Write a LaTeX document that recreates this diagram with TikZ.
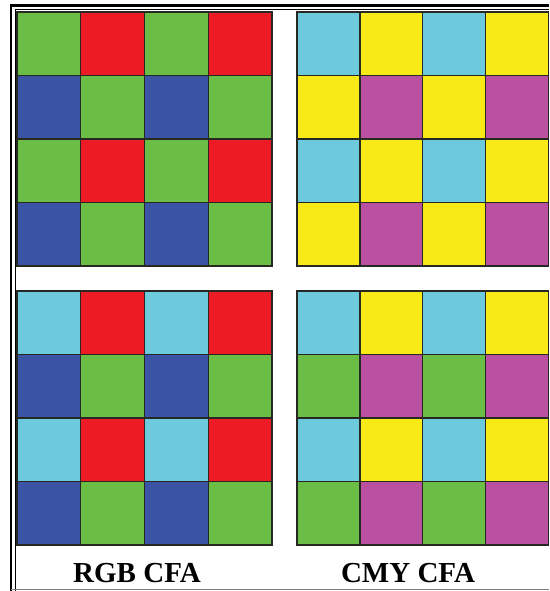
\documentclass[tikz,border=0pt]{standalone}
\usepackage{fontspec}
\setmainfont{Liberation Serif}
\definecolor{cG}{RGB}{106,189,69}
\definecolor{cR}{RGB}{237,28,36}
\definecolor{cB}{RGB}{58,83,164}
\definecolor{cC}{RGB}{109,202,220}
\definecolor{cY}{RGB}{247,234,22}
\definecolor{cM}{RGB}{185,80,160}
\definecolor{cellline}{RGB}{40,40,35}
\newcommand\cfagrid[6]{%
  \foreach \rowlist [count=\r from 0] in {#6} {
    \foreach \c [count=\k from 0] in \rowlist {
      \node[cell, fill=\c, minimum width=#4pt, minimum height=#5pt] (#1-\r-\k) at ({#2+\k*#4},{#3+\r*#5}) {};
    }
  }
}
\begin{document}
\begin{tikzpicture}[x=1pt,y=-1pt,
  cell/.style={draw=cellline, line width=1.4pt, inner sep=0pt, outer sep=0pt, anchor=north west},
  lbl/.style={font=\bfseries\fontsize{29}{29}\selectfont, anchor=base, inner sep=0pt}]
\useasboundingbox (0,0) rectangle (549,591);
\fill[white] (0,0) rectangle (549,591);
% frame
\draw[line width=2.6pt] (11,591) -- (11,5.5) -- (549,5.5);
\draw[line width=0.7pt] (15,591) -- (15,9.5) -- (549,9.5);
\draw[line width=0.8pt, gray] (11,589.5) -- (549,589.5);
% grids
\cfagrid{tl}{17}{12}{63.75}{63.5}{{cG,cR,cG,cR},{cB,cG,cB,cG},{cG,cR,cG,cR},{cB,cG,cB,cG}}
\cfagrid{tr}{297}{12}{62.8}{63.5}{{cC,cY,cC,cY},{cY,cM,cY,cM},{cC,cY,cC,cY},{cY,cM,cY,cM}}
\cfagrid{bl}{17}{291}{63.75}{63.5}{{cC,cR,cC,cR},{cB,cG,cB,cG},{cC,cR,cC,cR},{cB,cG,cB,cG}}
\cfagrid{br}{297}{291}{62.8}{63.5}{{cC,cY,cC,cY},{cG,cM,cG,cM},{cC,cY,cC,cY},{cG,cM,cG,cM}}
% labels
\node[lbl] (rgb) at (137,582) {RGB CFA};
\node[lbl] (cmy) at (408,582) {CMY CFA};
\end{tikzpicture}
\end{document}
